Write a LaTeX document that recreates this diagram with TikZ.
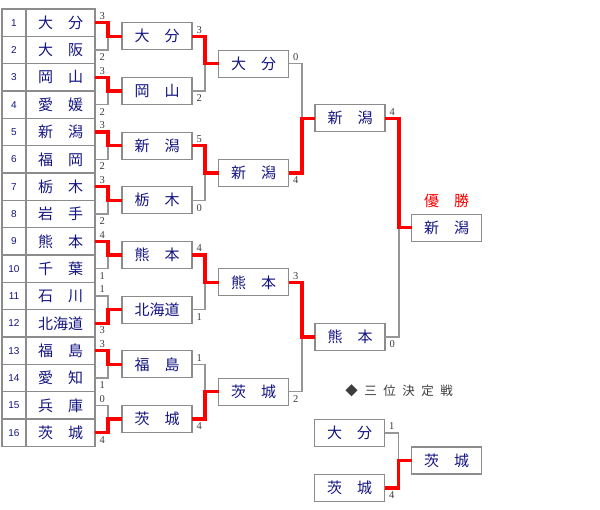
\documentclass[tikz,border=0pt]{standalone}
\usepackage{fontspec}
\newfontfamily\cjk{Noto Sans CJK JP}
\newfontfamily\numf{Liberation Sans}
\newfontfamily\scf{Liberation Serif}
\definecolor{navyt}{RGB}{20,20,130}
\definecolor{bgray}{RGB}{140,140,140}
\definecolor{lgray}{RGB}{150,150,150}
\definecolor{sgray}{RGB}{60,60,60}
\newcommand\namefont{\cjk\fontsize{15}{15}\selectfont}
\newcommand\gp{\hspace{6.5pt}}
\tikzset{
  cell/.style={draw=bgray, line width=1.2pt, inner sep=0pt, outer sep=0pt, minimum height=27.333pt},
  numcell/.style={cell, minimum width=24pt, font=\numf\fontsize{10}{10}\selectfont, text=navyt},
  namecell/.style={cell, minimum width=69pt, font=\namefont, text=navyt},
  box/.style={draw=bgray, line width=1.3pt, fill=white, inner sep=0pt, outer sep=0pt, minimum width=70pt, minimum height=27pt, font=\namefont, text=navyt},
  gl/.style={draw=lgray, line width=1.2pt},
  rl/.style={draw=red, line width=3.6pt, line join=miter},
  scbase/.style={font=\scf\fontsize{10.5}{10.5}\selectfont, text=sgray, inner sep=0pt, xshift=4.5pt},
  sctop/.style={scbase, anchor=south west, yshift=3pt},
  scbot/.style={scbase, anchor=north west, yshift=-3.5pt},
}
\begin{document}
\begin{tikzpicture}[x=1pt,y=-1pt]
\useasboundingbox (0,0) rectangle (600,510);
% teams
\foreach \i/\nm in {1/大　分,2/大　阪,3/岡　山,4/愛　媛,5/新　潟,6/福　岡,7/栃　木,8/岩　手,9/熊　本,10/千　葉,11/石　川,12/北海道,13/福　島,14/愛　知,15/兵　庫,16/茨　城}{
  \pgfmathsetmacro\yy{9+27.333*(\i-0.5)}
  \node[numcell] (n\i) at (14,\yy) {\i};
  \node[namecell] (t\i) at (60.5,\yy) {\nm};
}
% round 2
\foreach \k/\nm in {1/大　分,2/岡　山,3/新　潟,4/栃　木,5/熊　本,6/北海道,7/福　島,8/茨　城}{
  \pgfmathsetmacro\yy{9+27.333*(2*\k-1)}
  \node[box] (b\k) at (157,\yy) {\nm};
}
% round 3
\foreach \k/\nm in {1/大　分,2/新　潟,3/熊　本,4/茨　城}{
  \pgfmathsetmacro\yy{9+27.333*(4*\k-2)}
  \node[box] (c\k) at (253.5,\yy) {\nm};
}
% round 4
\node[box] (d1) at (350,118.33) {新　潟};
\node[box] (d2) at (350,337) {熊　本};
% final
\node[box] (f) at (446.5,227.67) {新　潟};
\node[font=\namefont, text=red, inner sep=0pt] (yu) at (446.5,201) {優　勝};
% third place
\node[font=\cjk\fontsize{12.5}{12.5}\selectfont, text=sgray, inner sep=0pt] (h3) at (399,391) {◆\gp 三\gp 位\gp 決\gp 定\gp 戦};
\node[box] (p1) at (349.5,433) {大　分};
\node[box] (p2) at (349.5,488) {茨　城};
\node[box] (p3) at (446.5,460.5) {茨　城};
% gray connectors
\foreach \s/\t/\o in {t1/b1/13,t2/b1/13,t3/b2/13,t4/b2/13,t5/b3/13,t6/b3/13,t7/b4/13,t8/b4/13,
  t9/b5/13,t10/b5/13,t11/b6/13,t12/b6/13,t13/b7/13,t14/b7/13,t15/b8/13,t16/b8/13,
  b1/c1/13,b2/c1/13,b3/c2/13,b4/c2/13,b5/c3/13,b6/c3/13,b7/c4/13,b8/c4/13,
  c1/d1/13.5,c2/d1/13.5,c3/d2/13.5,c4/d2/13.5,d1/f/14,d2/f/14,p1/p3/14,p2/p3/14}
  \draw[gl] (\s.east) -- ++(\o,0) |- (\t.west);
% red connectors
\foreach \s/\t/\o in {t1/b1/13,t3/b2/13,t5/b3/13,t7/b4/13,t9/b5/13,t12/b6/13,t13/b7/13,t16/b8/13,
  b1/c1/13,b3/c2/13,b5/c3/13,b8/c4/13,c2/d1/13.5,c3/d2/13.5,d1/f/14,p2/p3/14}
  \draw[rl] (\s.east) -- ++(\o,0) |- (\t.west);
% scores
\foreach \s/\v/\p in {t1/3/top,t2/2/bot,t3/3/top,t4/2/bot,t5/3/top,t6/2/bot,t7/3/top,t8/2/bot,
  t9/4/top,t10/1/bot,t11/1/top,t12/3/bot,t13/3/top,t14/1/bot,t15/0/top,t16/4/bot,
  b1/3/top,b2/2/bot,b3/5/top,b4/0/bot,b5/4/top,b6/1/bot,b7/1/top,b8/4/bot,
  c1/0/top,c2/4/bot,c3/3/top,c4/2/bot,d1/4/top,d2/0/bot,p1/1/top,p2/4/bot}
  \path (\s.east) node[sc\p] (s-\s) {\v};
\end{tikzpicture}
\end{document}
